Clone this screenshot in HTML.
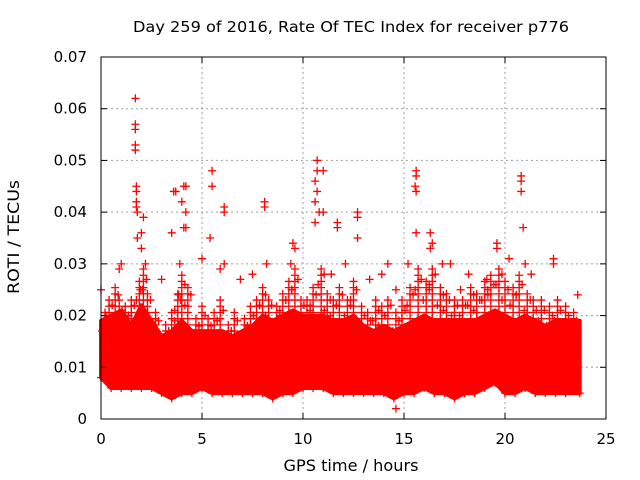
<!DOCTYPE html>
<html><head><meta charset="utf-8"><style>
body{margin:0;background:#fff}
svg{display:block;font-family:"DejaVu Sans","Liberation Sans",sans-serif}
</style></head><body>
<svg id="chart" width="640" height="480">
<text x="351" y="32" text-anchor="middle" font-size="15" textLength="436" lengthAdjust="spacingAndGlyphs">Day 259 of 2016, Rate Of TEC Index for receiver p776</text>
<text x="351" y="471" text-anchor="middle" font-size="16" textLength="135" lengthAdjust="spacingAndGlyphs">GPS time / hours</text>
<text x="19" y="237" text-anchor="middle" font-size="16" textLength="114" lengthAdjust="spacingAndGlyphs" transform="rotate(-90 19 237)">ROTI / TECUs</text>
<g id="grid"></g><g id="marks"></g><g id="axes"></g>
</svg>
<script>
const xTicks=[0,5,10,15,20,25];
const yTicks=[0,0.01,0.02,0.03,0.04,0.05,0.06,0.07];
const yTickLabels=["0","0.01","0.02","0.03","0.04","0.05","0.06","0.07"];
const bandHours=[0,0.5,1,1.5,2,2.5,3,3.5,4,4.5,5,5.5,6,6.5,7,7.5,8,8.5,9,9.5,10,10.5,11,11.5,12,12.5,13,13.5,14,14.5,15,15.5,16,16.5,17,17.5,18,18.5,19,19.5,20,20.5,21,21.5,22,22.5,23,23.7];
const bandUpper=[0.019,0.020,0.021,0.018,0.022,0.019,0.016,0.017,0.019,0.017,0.017,0.017,0.017,0.016,0.017,0.018,0.020,0.019,0.020,0.021,0.020,0.020,0.020,0.019,0.019,0.020,0.018,0.017,0.018,0.017,0.018,0.019,0.020,0.019,0.019,0.019,0.019,0.019,0.020,0.021,0.020,0.019,0.020,0.019,0.018,0.019,0.019,0.019];
const bandLower=[0.008,0.006,0.006,0.006,0.006,0.006,0.005,0.004,0.005,0.005,0.006,0.005,0.005,0.005,0.005,0.005,0.005,0.004,0.005,0.005,0.006,0.006,0.006,0.005,0.005,0.005,0.005,0.005,0.005,0.004,0.005,0.005,0.006,0.005,0.005,0.004,0.005,0.005,0.006,0.007,0.005,0.005,0.006,0.005,0.005,0.005,0.005,0.005];
const spikeHours=[0.2,0.4,0.7,0.9,1.2,1.5,1.9,2.1,2.3,2.7,3.2,3.5,3.8,4.0,4.3,4.7,5.0,5.3,5.6,5.9,6.3,6.6,7.1,7.4,7.7,8.0,8.3,8.7,9.0,9.3,9.6,9.9,10.2,10.5,10.9,11.2,11.5,11.8,12.2,12.5,12.9,13.2,13.6,13.9,14.2,14.6,14.9,15.3,15.7,16.1,16.4,16.8,17.1,17.5,17.9,18.3,18.6,19.0,19.3,19.7,20.0,20.4,20.7,21.1,21.4,21.8,22.2,22.6,23.0,23.4];
const spikeValues=[0.021,0.024,0.026,0.023,0.022,0.024,0.027,0.029,0.025,0.021,0.019,0.021,0.025,0.028,0.026,0.020,0.022,0.020,0.021,0.023,0.019,0.021,0.020,0.022,0.024,0.026,0.024,0.022,0.025,0.027,0.029,0.024,0.023,0.026,0.030,0.025,0.024,0.026,0.024,0.027,0.022,0.021,0.023,0.022,0.024,0.021,0.023,0.026,0.029,0.027,0.030,0.026,0.025,0.024,0.024,0.026,0.025,0.027,0.028,0.030,0.027,0.026,0.028,0.025,0.023,0.023,0.022,0.023,0.022,0.021];
const outHours=[1.7,1.7,1.7,1.7,1.7,1.75,1.75,1.75,1.75,1.8,2.1,2.0,1.8,2.0,3.7,3.6,4.1,4.2,4.0,4.2,4.1,4.2,3.5,5.5,5.5,6.1,6.1,5.4,8.1,8.1,10.7,10.7,11.0,10.6,10.7,10.6,10.8,10.6,11.0,11.7,11.7,12.7,12.7,12.7,15.6,15.6,15.55,15.6,15.6,20.8,20.8,20.8,20.9,22.4,22.4,19.6,19.6,9.5,9.6,16.3,16.4,16.3,14.2,16.9,17.3,6.1,6.9,1.0,0.9,2.2,3.9,5.0,5.9,7.5,8.2,9.4,11.4,12.1,13.9,15.2,18.2,19.1,21.3,23.6,0.0,3.0,13.3,17.8,20.2,21.0,14.6,14.6];
const outValues=[0.062,0.057,0.056,0.053,0.052,0.045,0.044,0.042,0.041,0.040,0.039,0.036,0.035,0.033,0.044,0.044,0.045,0.045,0.042,0.040,0.037,0.037,0.036,0.048,0.045,0.041,0.040,0.035,0.042,0.041,0.050,0.048,0.048,0.046,0.044,0.042,0.040,0.038,0.040,0.038,0.037,0.040,0.039,0.035,0.048,0.047,0.045,0.044,0.036,0.047,0.046,0.044,0.037,0.031,0.030,0.034,0.033,0.034,0.033,0.036,0.034,0.033,0.030,0.030,0.030,0.030,0.027,0.030,0.029,0.030,0.030,0.031,0.029,0.028,0.030,0.030,0.028,0.030,0.028,0.030,0.028,0.027,0.028,0.024,0.025,0.027,0.027,0.025,0.031,0.030,0.025,0.002];
const X0=101,X1=606,Y0=419,Y1=57;
const sx=h=>X0+(h-0)/(25-0)*(X1-X0);
const sy=v=>Y0-(v-0)/(0.07-0)*(Y0-Y1);
const NS="http://www.w3.org/2000/svg";
function mk(t,a,p){const e=document.createElementNS(NS,t);for(const k in a)e.setAttribute(k,a[k]);p.appendChild(e);return e;}
const grid=document.getElementById('grid'),marks=document.getElementById('marks'),axes=document.getElementById('axes');
xTicks.forEach((t,i)=>{
 if(i>0&&i<xTicks.length-1){const g=mk('line',{x1:sx(t),x2:sx(t),y1:Y1,y2:Y0,stroke:'#a0a0a0','stroke-dasharray':'2,3'},grid);
 
 }
 const l=mk('text',{x:sx(t),y:Y0+25,'text-anchor':'middle','font-size':15},axes);l.textContent=t;
 
 
 mk('line',{x1:sx(t),x2:sx(t),y1:Y0,y2:Y0-6,stroke:'#000'},axes);
 mk('line',{x1:sx(t),x2:sx(t),y1:Y1,y2:Y1+6,stroke:'#000'},axes);
});
yTicks.forEach((t,i)=>{
 if(i>0&&i<yTicks.length-1){const g=mk('line',{x1:X0,x2:X1,y1:sy(t),y2:sy(t),stroke:'#a0a0a0','stroke-dasharray':'2,3'},grid);
 
 }
 const l=mk('text',{x:X0-14,y:sy(t)+5,'text-anchor':'end','font-size':15},axes);l.textContent=yTickLabels[i];
 
 
 mk('line',{x1:X0,x2:X0+6,y1:sy(t),y2:sy(t),stroke:'#000'},axes);
 mk('line',{x1:X1,x2:X1-6,y1:sy(t),y2:sy(t),stroke:'#000'},axes);
});
const fr=mk('rect',{x:X0,y:Y1,width:X1-X0,height:Y0-Y1,fill:'none',stroke:'#000'},axes);


let pts=bandHours.map((h,i)=>sx(h)+','+sy(bandUpper[i]));
for(let i=bandHours.length-1;i>=0;i--)pts.push(sx(bandHours[i])+','+sy(bandLower[i]));
const band=mk('polygon',{points:pts.join(' '),fill:'#ff0000',stroke:'#ff0000','stroke-width':4,'stroke-linejoin':'round'},marks);


function plus(x,y,name){const p=mk('path',{d:`M${x-4},${y}H${x+4}M${x},${y-4}V${y+4}`,stroke:'#ff0000','stroke-width':1.3},marks);
 
 }
bandHours.forEach((h,i)=>{plus(sx(h),sy(bandLower[i]),'band-bottom-point');});
spikeHours.forEach((h,i)=>{
 const base=0.017;
 for(let v=base;v<=spikeValues[i]+1e-9;v+=0.0012)plus(sx(h),sy(v),'spike-point');
 plus(sx(h)+3,sy(spikeValues[i]-0.002),'spike-point');
 plus(sx(h)-3,sy(spikeValues[i]-0.004),'spike-point');
});
outHours.forEach((h,i)=>plus(sx(h),sy(outValues[i]),'roti-outlier-point'));
</script>
</body></html>
